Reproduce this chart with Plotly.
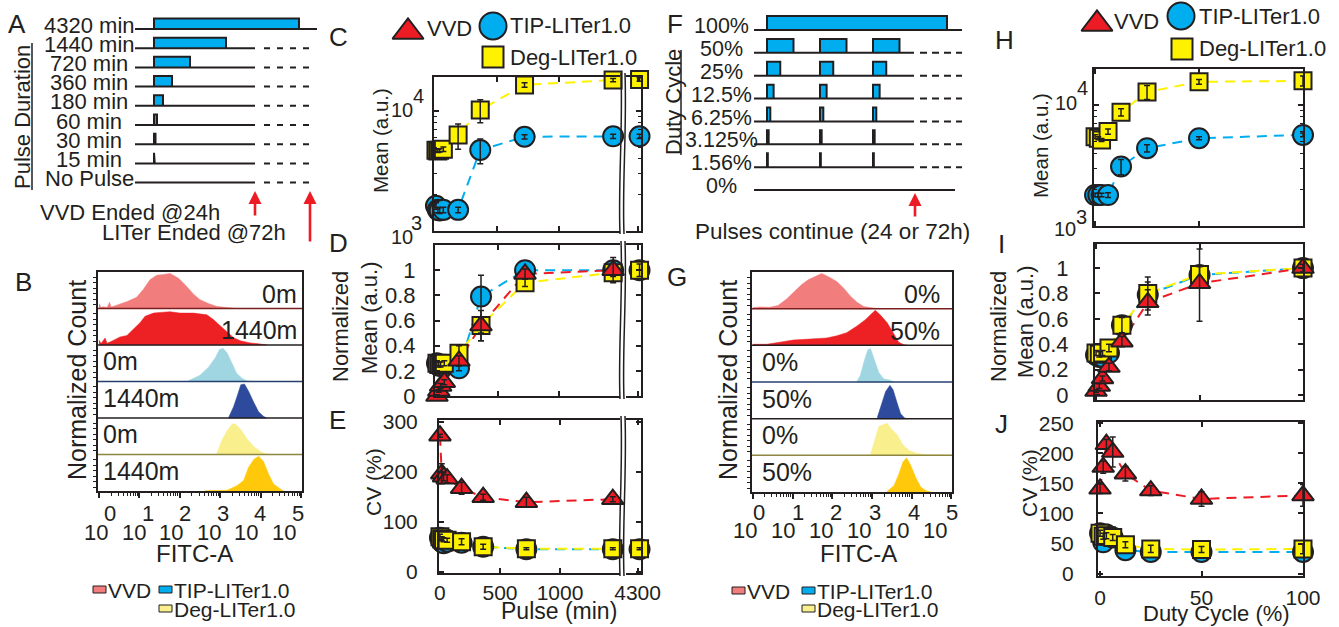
import numpy as np
import plotly.graph_objects as go

W, H = 1339, 627
FONT = "Liberation Sans, Arial, Helvetica, sans-serif"
INK = "#231F20"
RED = "#ED1C24"
BLUE = "#00AEEF"
YELLOW = "#FFF200"

# ------------------------------------------------------------------ data
# Panel A schematic (pulse durations, minutes)
a_durations = [4320, 1440, 720, 360, 180, 60, 30, 15, 0]
a_labels = ["4320 min", "1440 min", "720 min", "360 min", "180 min",
            "60 min", "30 min", "15 min", "No Pulse"]
# Panel F schematic (duty cycles, %)
f_duty = [100, 50, 25, 12.5, 6.25, 3.125, 1.56, 0]
f_labels = ["100%", "50%", "25%", "12.5%", "6.25%", "3.125%", "1.56%", "0%"]
f_n_pulses = 3

# Panel B histograms (log10 FITC-A, normalized count)
b_vvd_0_log = [0, 0.05, 0.1, 0.2, 0.26, 0.3, 0.4, 0.52, 0.7, 0.93, 1.1, 1.26, 1.43, 1.6,
               1.76, 1.97, 2.13, 2.34, 2.5, 2.71, 2.92, 3.17, 3.4]
b_vvd_0_h = [0.14, 0.03, 0.05, 0.03, 0.18, 0.04, 0.08, 0.12, 0.2, 0.32, 0.55, 0.82, 0.95,
             0.97, 1.0, 0.86, 0.68, 0.41, 0.25, 0.14, 0.06, 0.03, 0]
b_vvd_1440_log = [0, 0.05, 0.15, 0.2, 0.3, 0.52, 0.69, 0.81, 1.02, 1.14, 1.35, 1.51, 1.76,
                  2.0, 2.34, 2.67, 2.83, 3.0, 3.17, 3.33, 3.5, 3.74, 3.99, 4.15]
b_vvd_1440_h = [0.14, 0.04, 0.2, 0.05, 0.1, 0.23, 0.27, 0.41, 0.64, 0.82, 0.91, 0.93, 0.95,
                0.91, 0.91, 0.86, 0.73, 0.55, 0.36, 0.21, 0.12, 0.06, 0.03, 0]
b_tip_0_log = [2.21, 2.5, 2.71, 2.88, 2.98, 3.07, 3.17, 3.29, 3.41, 3.54, 3.66, 3.83]
b_tip_0_h = [0.02, 0.18, 0.41, 0.68, 0.91, 0.95, 0.82, 0.5, 0.23, 0.09, 0.02, 0]
b_tip_1440_log = [3.21, 3.33, 3.41, 3.51, 3.6, 3.7, 3.83, 3.95, 4.07, 4.15]
b_tip_1440_h = [0.02, 0.32, 0.59, 0.95, 0.97, 0.77, 0.45, 0.18, 0.05, 0]
b_deg_0_log = [2.92, 3.04, 3.17, 3.29, 3.37, 3.5, 3.66, 3.83, 3.99, 4.12, 4.25]
b_deg_0_h = [0.03, 0.41, 0.68, 0.86, 0.88, 0.73, 0.45, 0.23, 0.09, 0.02, 0]
b_deg_1440_log = [2.63, 3.17, 3.41, 3.58, 3.7, 3.83, 3.95, 4.07, 4.2, 4.32, 4.49, 4.57]
b_deg_1440_h = [0.01, 0.02, 0.15, 0.3, 0.67, 0.9, 0.99, 0.85, 0.48, 0.2, 0.06, 0]
b_row_labels = ["0m", "1440m", "0m", "1440m", "0m", "1440m"]

# Panel G histograms
g_vvd_0_log = [0, 0.17, 0.42, 0.63, 0.84, 1.06, 1.22, 1.39, 1.6, 1.73, 1.9, 2.11, 2.28,
               2.45, 2.62, 2.79, 3.04, 3.21]
g_vvd_0_h = [0.03, 0.05, 0.04, 0.09, 0.27, 0.5, 0.68, 0.82, 0.94, 1.0, 0.91, 0.77, 0.59,
             0.36, 0.18, 0.06, 0.02, 0]
g_vvd_50_log = [0, 0.34, 0.68, 1.01, 1.44, 1.86, 2.11, 2.36, 2.62, 2.83, 3.0, 3.08, 3.21,
                3.38, 3.55, 3.67, 3.8, 3.89]
g_vvd_50_h = [0.03, 0.03, 0.09, 0.15, 0.18, 0.21, 0.27, 0.36, 0.55, 0.73, 0.91, 1.0, 0.86,
              0.64, 0.32, 0.09, 0.02, 0]
g_tip_0_log = [2.62, 2.7, 2.8, 2.89, 2.96, 3.04, 3.17, 3.29, 3.46, 3.55]
g_tip_0_h = [0.03, 0.18, 0.59, 0.91, 0.95, 0.68, 0.27, 0.09, 0.05, 0]
g_tip_50_log = [3.13, 3.23, 3.34, 3.45, 3.53, 3.63, 3.72, 3.82, 3.89]
g_tip_50_h = [0.03, 0.41, 0.77, 0.95, 0.82, 0.45, 0.14, 0.02, 0]
g_deg_0_log = [2.96, 3.08, 3.17, 3.25, 3.38, 3.5, 3.63, 3.76, 3.93, 4.14, 4.39, 4.9, 5.0]
g_deg_0_h = [0.03, 0.5, 0.82, 0.86, 0.91, 0.73, 0.59, 0.32, 0.14, 0.05, 0.02, 0.01, 0]
g_deg_50_log = [3.38, 3.55, 3.67, 3.78, 3.87, 3.97, 4.1, 4.22, 4.35, 4.48]
g_deg_50_h = [0.02, 0.18, 0.5, 0.86, 0.97, 0.77, 0.41, 0.15, 0.04, 0]
g_row_labels = ["0%", "50%", "0%", "50%", "0%", "50%"]

hist_colors = ["#F27D7D", "#ED2024", "#A0D6E2", "#2E4A9C", "#F9EF8D", "#FFC80A"]
hist_sep_colors = ["#7A1F1F", INK, "#24406E", INK, "#8C8640"]

# Panels C-E (pulse duration experiment)
pulse_min = [0, 15, 30, 60, 180, 360, 720, 1440, 4320]
tip_mean = [1620, 1500, 1480, 1500, 1500, 4730, 6100, 6150, 6150]
tip_mean_ep = [100, 80, 80, 80, 80, 1100, 250, 250, 250]
tip_mean_em = [100, 80, 80, 80, 80, 1100, 250, 250, 250]
deg_mean = [4700, 4650, 4700, 4800, 6300, 10200, 16500, 18100, 18300]
deg_mean_ep = [150, 150, 150, 200, 1500, 2200, 700, 600, 600]
deg_mean_em = [150, 150, 150, 200, 1500, 2200, 700, 600, 600]

tip_norm = [0.26, 0.24, 0.24, 0.24, 0.22, 0.79, 1.0, 1.0, 1.0]
tip_norm_ep = [0.02, 0.02, 0.02, 0.02, 0.02, 0.17, 0.02, 0.02, 0.02]
tip_norm_em = [0.02, 0.02, 0.02, 0.02, 0.02, 0.35, 0.02, 0.02, 0.02]
deg_norm = [0.26, 0.25, 0.25, 0.26, 0.34, 0.56, 0.9, 0.98, 1.0]
deg_norm_e = [0.02, 0.02, 0.02, 0.02, 0.06, 0.06, 0.03, 0.03, 0.05]
vvd_pulse_min = [0, 15, 30, 60, 180, 360, 720, 1440]
vvd_norm = [0.0, 0.04, 0.08, 0.11, 0.28, 0.56, 0.97, 1.0]
vvd_norm_e = [0.01, 0.01, 0.02, 0.02, 0.04, 0.12, 0.04, 0.1]

tip_cv = [68, 60, 57, 60, 58, 50, 45, 45, 45]
tip_cv_e = [4, 3, 3, 3, 3, 3, 2, 2, 2]
deg_cv = [70, 66, 64, 63, 60, 50, 46, 46, 46]
deg_cv_e = [5, 4, 4, 4, 6, 5, 2, 2, 2]
vvd_cv = [272, 196, 190, 186, 167, 149, 139, 145]
vvd_cv_e = [3, 20, 8, 8, 12, 6, 10, 5]

# Panels H-J (duty cycle experiment)
duty = [0, 1.56, 3.125, 6.25, 12.5, 25, 50, 100]
tip_mean_h = [1800, 1800, 1800, 1800, 3100, 4390, 5310, 5650]
tip_mean_h_e = [60, 60, 60, 80, 450, 300, 150, 200]
deg_mean_h = [5470, 5300, 5140, 6020, 8700, 12800, 15500, 15800]
deg_mean_h_e = [200, 150, 150, 300, 600, 1700, 700, 1500]

tip_norm_i = [0.315, 0.3, 0.3, 0.33, 0.55, 0.79, 0.945, 1.0]
tip_norm_i_e = [0.02, 0.02, 0.02, 0.02, 0.04, 0.1, 0.05, 0.02]
deg_norm_i = [0.33, 0.32, 0.33, 0.37, 0.55, 0.8, 0.95, 1.0]
deg_norm_i_e = [0.02, 0.02, 0.02, 0.03, 0.06, 0.13, 0.06, 0.02]
vvd_norm_i = [0.03, 0.07, 0.13, 0.22, 0.42, 0.73, 0.88, 1.0]
vvd_norm_i_ep = [0.01, 0.02, 0.02, 0.03, 0.04, 0.1, 0.27, 0.03]
vvd_norm_i_em = [0.01, 0.02, 0.02, 0.03, 0.04, 0.1, 0.3, 0.03]

tip_cv_j = [67, 52, 65, 60, 39, 36, 36, 36]
tip_cv_j_e = [5, 5, 5, 5, 5, 6, 5, 8]
deg_cv_j = [67, 62, 63, 60, 48, 41, 40, 41]
deg_cv_j_e = [5, 5, 5, 5, 5, 6, 5, 8]
vvd_cv_j = [141, 177, 215, 202, 166, 138, 124, 130]
vvd_cv_j_e = [8, 10, 8, 25, 12, 8, 12, 18]

# ------------------------------------------------------------------ helpers
fig = go.Figure()
layout_axes = {}
ann = []
shp = []


def px_x(a, b):
    return [a / W, b / W]


def px_y(top, bot):
    return [1 - bot / H, 1 - top / H]


def set_axes(n, xdom, ydom, xa, ya):
    xn = 'xaxis' if n == 1 else f'xaxis{n}'
    yn = 'yaxis' if n == 1 else f'yaxis{n}'
    xi = 'x' if n == 1 else f'x{n}'
    yi = 'y' if n == 1 else f'y{n}'
    xa = dict(xa)
    ya = dict(ya)
    xa.update(domain=px_x(*xdom), anchor=yi, automargin=False)
    ya.update(domain=px_y(*ydom), anchor=xi, automargin=False)
    layout_axes[xn] = xa
    layout_axes[yn] = ya
    return xi, yi


def hidden(rng):
    return dict(visible=False, range=rng, fixedrange=True, showgrid=False, zeroline=False)


def framed(**kw):
    d = dict(showline=True, linecolor=INK, linewidth=2, ticks='inside', ticklen=5,
             tickwidth=1.5, tickcolor=INK, showgrid=False, zeroline=False,
             showticklabels=False, fixedrange=True,
             tickfont=dict(family=FONT, size=21, color=INK))
    d.update(kw)
    return d


def sc(**kw):
    kw.setdefault('showlegend', False)
    kw.setdefault('hoverinfo', 'skip')
    fig.add_trace(go.Scatter(**kw))


def text(x, y, s, size=21, xa='center', ya='middle', angle=0, xref='x', yref='y',
         xshift=0, yshift=0):
    ann.append(dict(x=x, y=y, text=s, xref=xref, yref=yref, xanchor=xa, yanchor=ya,
                    textangle=angle, showarrow=False, xshift=xshift, yshift=yshift,
                    font=dict(family=FONT, size=size, color=INK)))


def arrow(x, y, length):
    ann.append(dict(x=x, y=y, xref='x', yref='y', ax=0, ay=length, axref='pixel',
                    ayref='pixel', showarrow=True, arrowhead=2, arrowsize=1,
                    arrowwidth=2.6, arrowcolor=RED, text=''))


# overlay axis in pixel coordinates (for text, legend glyphs, decorations)
OX, OY = set_axes(1, (0, W), (0, H), hidden([0, W]), hidden([H, 0]))

# ------------------------------------------------------------------ panel A
A_ROW0, A_ROWPX, A_MINPX, A_X0PX = 29, 19.2, 20, 154
A_START, A_SOLID_END, A_DASH0, A_DASH1 = -380, 2020, 2200, 3120
A_CAP, A_FULL_END, A_PULSE_H = 2900, 3260, 0.55
ax_, ay_ = set_axes(2, (130, 320), (10, 200),
                    hidden([(130 - A_X0PX) * A_MINPX, (320 - A_X0PX) * A_MINPX]),
                    hidden([(200 - A_ROW0) / A_ROWPX, (10 - A_ROW0) / A_ROWPX]))
solid_x, solid_y, dash_x, dash_y = [], [], [], []
for i, d in enumerate(a_durations):
    L = min(d, A_CAP)
    if d > 0:
        sc(x=[0, 0, L, L], y=[i, i - A_PULSE_H, i - A_PULSE_H, i], mode='lines',
           fill='toself', fillcolor=BLUE, line=dict(color=INK, width=2),
           xaxis=ax_, yaxis=ay_)
    end = A_FULL_END if d >= A_CAP else A_SOLID_END
    solid_x += [A_START, end, None]
    solid_y += [i, i, None]
    if d < A_CAP:
        dash_x += [A_DASH0, A_DASH1, None]
        dash_y += [i, i, None]
    text(89, i - 0.2, a_labels[i], size=22, xref=OX, yref=ay_)
sc(x=solid_x, y=solid_y, mode='lines', line=dict(color=INK, width=2), xaxis=ax_, yaxis=ay_)
sc(x=dash_x, y=dash_y, mode='lines', line=dict(color=INK, width=2, dash='6px,7px'),
   xaxis=ax_, yaxis=ay_)
text(22, 117, "Pulse Duration", size=22, angle=-90)
shp.append(dict(type='line', xref=OX, yref=OY, x0=32, x1=32, y0=43, y1=190,
                line=dict(color=INK, width=1.5)))
text(130, 212, "VVD Ended @24h", size=22)
text(194, 232, "LITer Ended @72h", size=22)
arrow(255, 191, 26)
arrow(310, 191, 52)

# ------------------------------------------------------------------ panel F
F_ROW0, F_ROWPX, F_PERPX, F_X0PX = 30, 22.86, 53, 767
F_START, F_SOLID_END, F_DASH0, F_DASH1 = -0.245, 2.774, 2.887, 3.68
F_ON_END, F_FULL_END, F_ZERO_END, F_PULSE_H = 3.396, 3.68, 3.547, 0.61
fx_, fy_ = set_axes(3, (745, 970), (5, 200),
                    hidden([(745 - F_X0PX) / F_PERPX, (970 - F_X0PX) / F_PERPX]),
                    hidden([(200 - F_ROW0) / F_ROWPX, (5 - F_ROW0) / F_ROWPX]))
solid_x, solid_y, dash_x, dash_y = [], [], [], []
for i, dc in enumerate(f_duty):
    if dc >= 100:
        starts, width = [0], F_ON_END
    elif dc > 0:
        starts, width = list(range(f_n_pulses)), dc / 100
    else:
        starts, width = [], 0
    for s in starts:
        sc(x=[s, s, s + width, s + width], y=[i, i - F_PULSE_H, i - F_PULSE_H, i],
           mode='lines', fill='toself', fillcolor=BLUE, line=dict(color=INK, width=2),
           xaxis=fx_, yaxis=fy_)
    if dc >= 100:
        end = F_FULL_END
    elif dc == 0:
        end = F_ZERO_END
    else:
        end = F_SOLID_END
        dash_x += [F_DASH0, F_DASH1, None]
        dash_y += [i, i, None]
    solid_x += [F_START, end, None]
    solid_y += [i, i, None]
    text(721, i - 0.17, f_labels[i], size=21.5, xref=OX, yref=fy_)
sc(x=solid_x, y=solid_y, mode='lines', line=dict(color=INK, width=2), xaxis=fx_, yaxis=fy_)
sc(x=dash_x, y=dash_y, mode='lines', line=dict(color=INK, width=2, dash='7px,5px'),
   xaxis=fx_, yaxis=fy_)
text(673, 102, "Duty Cycle", size=22, angle=-90)
shp.append(dict(type='line', xref=OX, yref=OY, x0=681, x1=681, y0=50, y1=155,
                line=dict(color=INK, width=1.5)))
text(832, 231, "Pulses continue (24 or 72h)", size=22.5)
arrow(915, 193, 25)


# ------------------------------------------------------------------ histograms B & G
def hist_panel(n, xdom, ydom, xrange_, rows, row_labels, lab_right_x, lab_left_x,
               ten_shift, exp_shift, ten_y, exp_y, title_x, fitc_x):
    ytick = [r + f for r in range(6) for f in (0.1, 0.25, 0.4, 0.55, 0.7, 0.85)]
    minor_vals = [k * 10 ** e for e in range(5) for k in range(2, 10)]
    xi, yi = set_axes(
        n, xdom, ydom,
        framed(type='log', range=xrange_, tickvals=[10 ** e for e in range(6)],
               ticks='outside', ticklen=5, mirror=True, linewidth=1.5,
               minor=dict(tickmode='array', tickvals=minor_vals, ticks='outside',
                          ticklen=3, tickwidth=1, tickcolor=INK)),
        framed(range=[0, 6], tickvals=ytick, ticks='outside', ticklen=3, tickwidth=1,
               mirror=True, linewidth=1.5))
    for r, (logs, hs) in enumerate(rows):
        base = 5 - r
        xs = [10 ** v for v in logs]
        sc(x=xs + xs[::-1], y=[base + 0.96 * h for h in hs] + [base] * len(xs),
           mode='lines', fill='toself', fillcolor=hist_colors[r],
           line=dict(color=hist_colors[r], width=0.5), xaxis=xi, yaxis=yi)
    for k in range(5):
        shp.append(dict(type='line', xref=f'{xi} domain', yref=yi, x0=0, x1=1,
                        y0=5 - k, y1=5 - k, line=dict(color=hist_sep_colors[k], width=1.5)))
    for r, lab in enumerate(row_labels):
        if r < 2:
            text(lab_right_x, 5.45 - r - 0.05, lab, size=25, xa='right', xref=OX, yref=yi)
        else:
            text(lab_left_x, 5.5 - r + 0.05, lab, size=25, xa='left', xref=OX, yref=yi)
    for k in range(6):
        text(k, ten_y, "10", size=22, xref=xi, yref=OY, xshift=ten_shift[0] + ten_shift[1] * k)
        text(k, exp_y, str(k), size=22, xref=xi, yref=OY, xshift=exp_shift[0] + exp_shift[1] * k)
    text(title_x, 380, "Normalized Count", size=25, angle=-90)
    text(fitc_x, 553, "FITC-A", size=24)


b_rows = [(b_vvd_0_log, b_vvd_0_h), (b_vvd_1440_log, b_vvd_1440_h),
          (b_tip_0_log, b_tip_0_h), (b_tip_1440_log, b_tip_1440_h),
          (b_deg_0_log, b_deg_0_h), (b_deg_1440_log, b_deg_1440_h)]
g_rows = [(g_vvd_0_log, g_vvd_0_h), (g_vvd_50_log, g_vvd_50_h),
          (g_tip_0_log, g_tip_0_h), (g_tip_50_log, g_tip_50_h),
          (g_deg_0_log, g_deg_0_h), (g_deg_50_log, g_deg_50_h)]
hist_panel(4, (98, 302), (272, 491), [-0.025, 5.025], b_rows, b_row_labels, 299, 101,
           (-3, -2.8), (11, -2.8), 532, 513, 77, 194)
hist_panel(5, (752, 952), (272, 492), [-0.025, 5.013], g_rows, g_row_labels, 942, 760,
           (-8, -1.7), (6, -1.0), 530, 512, 728, 858)


def swatch(x0, y0, color, label):
    shp.append(dict(type='rect', xref=OX, yref=OY, x0=x0, x1=x0 + 13, y0=y0, y1=y0 + 7,
                    fillcolor=color, line=dict(color=INK, width=1)))
    text(x0 + 13, y0 + 4, label, size=21, xa='left')


swatch(93, 586, hist_colors[0], "VVD")
swatch(159, 586, BLUE, "TIP-LITer1.0")
swatch(159, 605, hist_colors[4], "Deg-LITer1.0")
swatch(732, 587, hist_colors[0], "VVD")
swatch(802, 587, BLUE, "TIP-LITer1.0")
swatch(802, 605, hist_colors[4], "Deg-LITer1.0")

# ------------------------------------------------------------------ scatter panels
DASH = '10px,7px'


def series(xi, yi, xs, ys, color, symbol, size, ep, em, xmax=None, xmin=None, line=True):
    pts = [(x, y, p, m) for x, y, p, m in zip(xs, ys, ep, em)
           if (xmax is None or x <= xmax) and (xmin is None or x >= xmin)]
    if not pts:
        return None
    px_, py_, pp_, pm_ = map(list, zip(*pts))
    return dict(xi=xi, yi=yi, x=px_, y=py_, ep=pp_, em=pm_, color=color,
                symbol=symbol, size=size, line=line)


def draw(group):
    group = [g for g in group if g is not None]
    for g in group:
        if g['line'] and len(g['x']) > 1:
            sc(x=g['x'], y=g['y'], mode='lines', line=dict(color=g['color'], width=2, dash=DASH),
               xaxis=g['xi'], yaxis=g['yi'])
    for g in group:
        sc(x=g['x'], y=g['y'], mode='markers', cliponaxis=False,
           marker=dict(symbol=g['symbol'], size=g['size'], color=g['color'],
                       line=dict(color=INK, width=2)),
           xaxis=g['xi'], yaxis=g['yi'])
        sc(x=g['x'], y=g['y'], mode='markers', cliponaxis=False,
           marker=dict(size=1, color='rgba(0,0,0,0)'),
           error_y=dict(type='data', symmetric=False, array=g['ep'], arrayminus=g['em'],
                        color=INK, thickness=1.5, width=3),
           xaxis=g['xi'], yaxis=g['yi'])


CS, SQ, TR = 20, 17, 19
MAIN_X = [-16, 1496]
RIGHT_X = [4180, 4335]
log_minor = [k * 1000 for k in range(2, 10)]
c_yrange = [3, np.log10(19200)]
h_yrange = [3, np.log10(19800)]


def log_y(**kw):
    return framed(type='log', tickvals=[1e3, 1e4],
                  minor=dict(tickmode='array', tickvals=log_minor, ticks='inside',
                             ticklen=3, tickwidth=1, tickcolor=INK), **kw)


# C
cx, cy = set_axes(6, (434, 620), (77, 231),
                  framed(range=MAIN_X, tickvals=[500, 1000], mirror='ticks'),
                  log_y(range=c_yrange, mirror=False))
crx, cry = set_axes(7, (626, 641), (77, 231),
                    framed(range=RIGHT_X, tickvals=[4300], mirror='ticks'),
                    log_y(range=c_yrange, side='right', mirror=False))
for (xi, yi, lo, hi) in [(cx, cy, None, 1500), (crx, cry, 4000, None)]:
    draw([series(xi, yi, pulse_min, tip_mean, BLUE, 'circle', CS, tip_mean_ep, tip_mean_em, hi, lo),
          series(xi, yi, pulse_min, deg_mean, YELLOW, 'square', SQ, deg_mean_ep, deg_mean_em, hi, lo)])

# D
ticks01 = [0, 0.2, 0.4, 0.6, 0.8, 1]
ticks01_t = ["0", "0.2", "0.4", "0.6", "0.8", "1"]
dx, dy = set_axes(8, (435, 620), (245, 396),
                  framed(range=MAIN_X, tickvals=[500, 1000], mirror='ticks'),
                  framed(range=[0, 1.2], tickvals=ticks01, ticktext=ticks01_t,
                         showticklabels=True, ticklabelstandoff=13, mirror=False,
                         tickfont=dict(family=FONT, size=22, color=INK)))
drx, dry = set_axes(9, (626, 641), (245, 396),
                    framed(range=RIGHT_X, tickvals=[4300], mirror='ticks'),
                    framed(range=[0, 1.2], tickvals=ticks01, side='right', mirror=False))
for (xi, yi, lo, hi) in [(dx, dy, None, 1500), (drx, dry, 4000, None)]:
    draw([series(xi, yi, pulse_min, tip_norm, BLUE, 'circle', CS, tip_norm_ep, tip_norm_em, hi, lo),
          series(xi, yi, pulse_min, deg_norm, YELLOW, 'square', SQ, deg_norm_e, deg_norm_e, hi, lo),
          series(xi, yi, vvd_pulse_min, vvd_norm, RED, 'triangle-up', TR, vvd_norm_e, vvd_norm_e, hi, lo)])

# E
ex, ey = set_axes(10, (439, 620), (420, 573),
                  framed(range=[-8, 1500], tickvals=[0, 500, 1000], ticktext=["0", "500", "1000"],
                         showticklabels=True, mirror='ticks', ticklabelstandoff=0),
                  framed(range=[-2.6, 303.4], tickvals=[0, 100, 200, 300], showticklabels=True,
                         ticklabelstandoff=15, mirror=False))
erx, ery = set_axes(11, (626, 641), (420, 573),
                    framed(range=RIGHT_X, tickvals=[4300], ticktext=["4300"],
                           showticklabels=True, mirror='ticks', ticklabelstandoff=0),
                    framed(range=[-2.6, 303.4], tickvals=[0, 100, 200, 300], side='right',
                           mirror=False))
for (xi, yi, lo, hi) in [(ex, ey, None, 1500), (erx, ery, 4000, None)]:
    draw([series(xi, yi, pulse_min, tip_cv, BLUE, 'circle', CS, tip_cv_e, tip_cv_e, hi, lo),
          series(xi, yi, pulse_min, deg_cv, YELLOW, 'square', SQ, deg_cv_e, deg_cv_e, hi, lo),
          series(xi, yi, vvd_pulse_min, vvd_cv, RED, 'triangle-up', TR, vvd_cv_e, vvd_cv_e, hi, lo)])

# H
hx, hy = set_axes(12, (1094, 1303), (69, 226),
                  framed(range=[-0.5, 100], tickvals=[0, 50, 100], mirror='ticks'),
                  log_y(range=h_yrange, mirror='ticks'))
draw([series(hx, hy, duty, tip_mean_h, BLUE, 'circle', CS, tip_mean_h_e, tip_mean_h_e),
      series(hx, hy, duty, deg_mean_h, YELLOW, 'square', SQ, deg_mean_h_e, deg_mean_h_e)])

# I
ix, iy = set_axes(13, (1095, 1303), (244, 400),
                  framed(range=[-0.5, 100], tickvals=[0, 50, 100], mirror='ticks'),
                  framed(range=[-0.04, 1.19], tickvals=ticks01, ticktext=ticks01_t,
                         showticklabels=True, ticklabelstandoff=20, mirror='ticks',
                         tickfont=dict(family=FONT, size=22, color=INK)))
draw([series(ix, iy, duty, tip_norm_i, BLUE, 'circle', CS, tip_norm_i_e, tip_norm_i_e),
      series(ix, iy, duty, deg_norm_i, YELLOW, 'square', SQ, deg_norm_i_e, deg_norm_i_e),
      series(ix, iy, duty, vvd_norm_i, RED, 'triangle-up', TR, vvd_norm_i_ep, vvd_norm_i_em)])

# J
jx, jy = set_axes(14, (1098, 1303), (422, 576),
                  framed(range=[-1, 100], tickvals=[0, 50, 100], showticklabels=True,
                         mirror='ticks', ticklabelstandoff=2),
                  framed(range=[-4, 252], tickvals=[0, 50, 100, 150, 200, 250],
                         showticklabels=True, ticklabelstandoff=18, mirror='ticks'))
draw([series(jx, jy, duty, tip_cv_j, BLUE, 'circle', CS, tip_cv_j_e, tip_cv_j_e),
      series(jx, jy, duty, deg_cv_j, YELLOW, 'square', SQ, deg_cv_j_e, deg_cv_j_e),
      series(jx, jy, duty, vvd_cv_j, RED, 'triangle-up', TR, vvd_cv_j_e, vvd_cv_j_e)])

# log tick labels for C and H
for (tx, ty, ex_, ey_, e) in [(402, 110, 418, 96, "4"), (402, 237, 416, 223, "3"),
                              (1066, 103, 1082, 88, "4"), (1065, 229, 1081, 217, "3")]:
    text(tx, ty, "10", size=20)
    text(ex_, ey_, e, size=20)

# axis titles
text(380, 141, "Mean (a.u.)", size=20.5, angle=-90)
text(340, 327, "Normalized", size=22, angle=-90)
text(369, 318, "Mean (a.u.)", size=22, angle=-90)
text(373, 482, "CV (%)", size=21, angle=-90)
text(559, 611, "Pulse (min)", size=23)
text(1040, 146, "Mean (a.u.)", size=20.5, angle=-90)
text(998, 327, "Normalized", size=22, angle=-90)
text(1025, 322, "Mean (a.u.)", size=22, angle=-90)
text(1029, 483, "CV (%)", size=21, angle=-90)
text(1216, 613, "Duty Cycle (%)", size=22)

# marker legends for C and H
for (tx, ty, cxp, cyp, sxp, syp, lx, vx, vy, ty1, ty2) in [
        (408, 32, 493, 26, 493, 57, 508, 425, 28, 25, 57),
        (1097, 24, 1181, 16, 1182, 49, 1197, 1112, 21, 16, 48)]:
    sc(x=[tx], y=[ty], mode='markers', cliponaxis=False, xaxis=OX, yaxis=OY,
       marker=dict(symbol='triangle-up', size=27, color=RED, line=dict(color=INK, width=2)))
    sc(x=[cxp], y=[cyp], mode='markers', cliponaxis=False, xaxis=OX, yaxis=OY,
       marker=dict(symbol='circle', size=27, color=BLUE, line=dict(color=INK, width=2)))
    sc(x=[sxp], y=[syp], mode='markers', cliponaxis=False, xaxis=OX, yaxis=OY,
       marker=dict(symbol='square', size=21, color=YELLOW, line=dict(color=INK, width=2)))
    text(vx, vy, "VVD", size=22, xa='left')
    text(lx, ty1, "TIP-LITer1.0", size=22, xa='left')
    text(lx, ty2, "Deg-LITer1.0", size=22, xa='left')

# axis-break symbols for C, D, E
for (top, bot) in [(77, 231), (245, 396), (420, 573)]:
    t, b = top - 4, bot + 3
    h = b - t
    for x0 in (621, 625):
        shp.append(dict(type='path', xref=OX, yref=OY, layer='above',
                        path=f"M {x0},{t} C {x0 + 2},{t + h * 0.35} {x0 - 3},{t + h * 0.7} {x0 - 1},{b}",
                        line=dict(color=INK, width=1.5)))

# panel letters
for (lx, ly, s) in [(17, 24, "A"), (23, 282, "B"), (338, 37, "C"), (338, 243, "D"),
                    (337, 420, "E"), (675, 24, "F"), (677, 277, "G"), (1004, 40, "H"),
                    (1001, 244, "I"), (1001, 424, "J")]:
    text(lx, ly, s, size=26)

fig.update_layout(
    width=W, height=H, autosize=False,
    margin=dict(l=0, r=0, t=0, b=0, pad=0, autoexpand=False),
    paper_bgcolor="white", plot_bgcolor="rgba(0,0,0,0)",
    showlegend=False,
    font=dict(family=FONT, color=INK),
    annotations=ann, shapes=shp,
    **layout_axes,
)

fig.write_html(
    "out.html",
    config={"displayModeBar": False, "responsive": False},
    post_script="document.documentElement.style.margin='0';document.body.style.margin='0';"
                "document.body.style.padding='0';document.body.style.overflow='hidden';",
)
